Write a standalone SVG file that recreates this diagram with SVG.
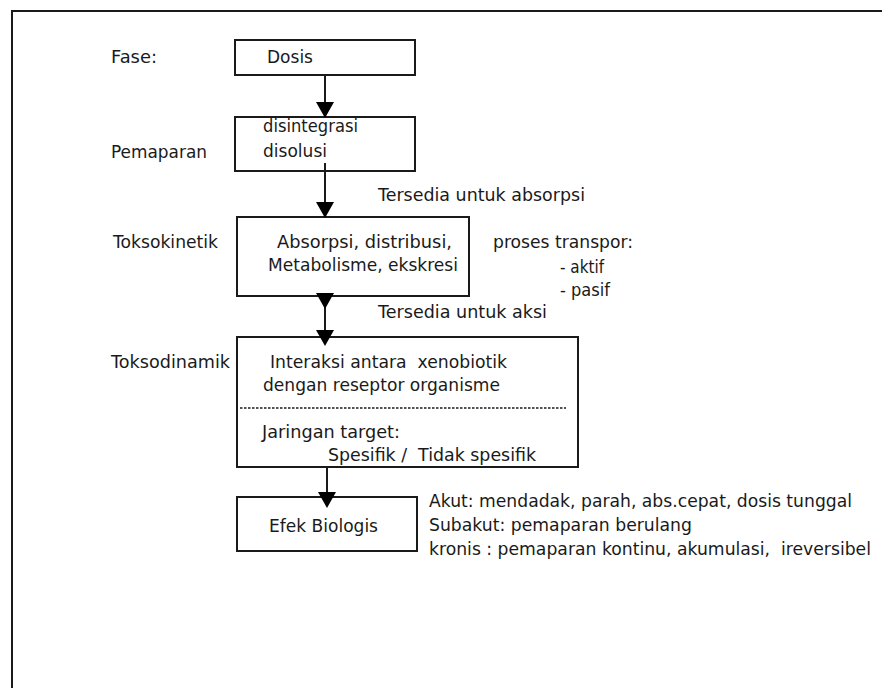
<svg xmlns="http://www.w3.org/2000/svg" width="882" height="688" viewBox="0 0 882 688">
<defs>
<style>
text{font-family:"DejaVu Sans",Verdana,sans-serif;font-size:17px;fill:#1a1a1a}
.box{fill:#fff;stroke:#1a1a1a;stroke-width:2}
.ln{stroke:#1a1a1a;stroke-width:2;fill:none}
</style>
<path id="tri" d="M-9,0 L9,0 L0,16 z" fill="#000"/>
</defs>
<rect width="882" height="688" fill="#fff"/>
<g id="frame">
<path class="ln" d="M12,688 V11 H882"/>
</g>
<g id="labels">
<text x="111" y="63" textLength="46" lengthAdjust="spacingAndGlyphs">Fase:</text>
<text x="111" y="158" textLength="96" lengthAdjust="spacingAndGlyphs">Pemaparan</text>
<text x="113" y="248" textLength="105" lengthAdjust="spacingAndGlyphs">Toksokinetik</text>
<text x="111" y="368" textLength="119" lengthAdjust="spacingAndGlyphs">Toksodinamik</text>
</g>
<g id="n-dosis">
<rect class="box" x="235" y="40" width="180" height="35"/>
<text x="267" y="63" textLength="46" lengthAdjust="spacingAndGlyphs">Dosis</text>
</g>
<g id="n-pemaparan">
<rect class="box" x="235" y="117" width="180" height="54"/>
<text x="263" y="132" textLength="95" lengthAdjust="spacingAndGlyphs">disintegrasi</text>
<text x="263" y="157" textLength="64" lengthAdjust="spacingAndGlyphs">disolusi</text>
</g>
<g id="n-absorpsi-label">
<text x="378" y="201" textLength="207" lengthAdjust="spacingAndGlyphs">Tersedia untuk absorpsi</text>
</g>
<g id="n-toksokinetik">
<rect class="box" x="237" y="217" width="232" height="79"/>
<text x="277" y="248" textLength="175" lengthAdjust="spacingAndGlyphs">Absorpsi, distribusi,</text>
<text x="268" y="271" textLength="190" lengthAdjust="spacingAndGlyphs">Metabolisme, ekskresi</text>
</g>
<g id="n-transpor">
<text x="493" y="248" textLength="140" lengthAdjust="spacingAndGlyphs">proses transpor:</text>
<text x="560" y="273" textLength="44" lengthAdjust="spacingAndGlyphs">- aktif</text>
<text x="560" y="296" textLength="50" lengthAdjust="spacingAndGlyphs">- pasif</text>
</g>
<g id="n-aksi-label">
<text x="378" y="318" textLength="169" lengthAdjust="spacingAndGlyphs">Tersedia untuk aksi</text>
</g>
<g id="n-toksodinamik">
<rect class="box" x="237" y="337" width="341" height="130"/>
<text x="270" y="368" textLength="237" lengthAdjust="spacingAndGlyphs" xml:space="preserve">Interaksi antara  xenobiotik</text>
<text x="263" y="391" textLength="237" lengthAdjust="spacingAndGlyphs">dengan reseptor organisme</text>
<line x1="240" y1="408" x2="566" y2="408" stroke="#1a1a1a" stroke-width="1.3" stroke-dasharray="2.5,1.5"/>
<text x="262" y="438" textLength="138" lengthAdjust="spacingAndGlyphs">Jaringan target:</text>
<text x="328" y="461" textLength="208" lengthAdjust="spacingAndGlyphs" xml:space="preserve">Spesifik /  Tidak spesifik</text>
</g>
<g id="n-efek">
<rect class="box" x="237" y="497" width="180" height="54"/>
<text x="269" y="532" textLength="109" lengthAdjust="spacingAndGlyphs">Efek Biologis</text>
</g>
<g id="n-efek-notes">
<text x="429" y="507" textLength="423" lengthAdjust="spacingAndGlyphs">Akut: mendadak, parah, abs.cepat, dosis tunggal</text>
<text x="429" y="531" textLength="263" lengthAdjust="spacingAndGlyphs">Subakut: pemaparan berulang</text>
<text x="429" y="555" textLength="442" lengthAdjust="spacingAndGlyphs" xml:space="preserve">kronis : pemaparan kontinu, akumulasi,  ireversibel</text>
</g>
<g id="connectors">
<line class="ln" x1="325" y1="75" x2="325" y2="104"/>
<use href="#tri" x="325" y="102"/>
<line class="ln" x1="325" y1="163" x2="325" y2="204"/>
<use href="#tri" x="325" y="202"/>
<line class="ln" x1="325" y1="296" x2="325" y2="332"/>
<use href="#tri" x="325" y="293"/>
<use href="#tri" x="325" y="330"/>
<line class="ln" x1="327" y1="467" x2="327" y2="494"/>
<use href="#tri" x="327" y="492"/>
</g>
</svg>
